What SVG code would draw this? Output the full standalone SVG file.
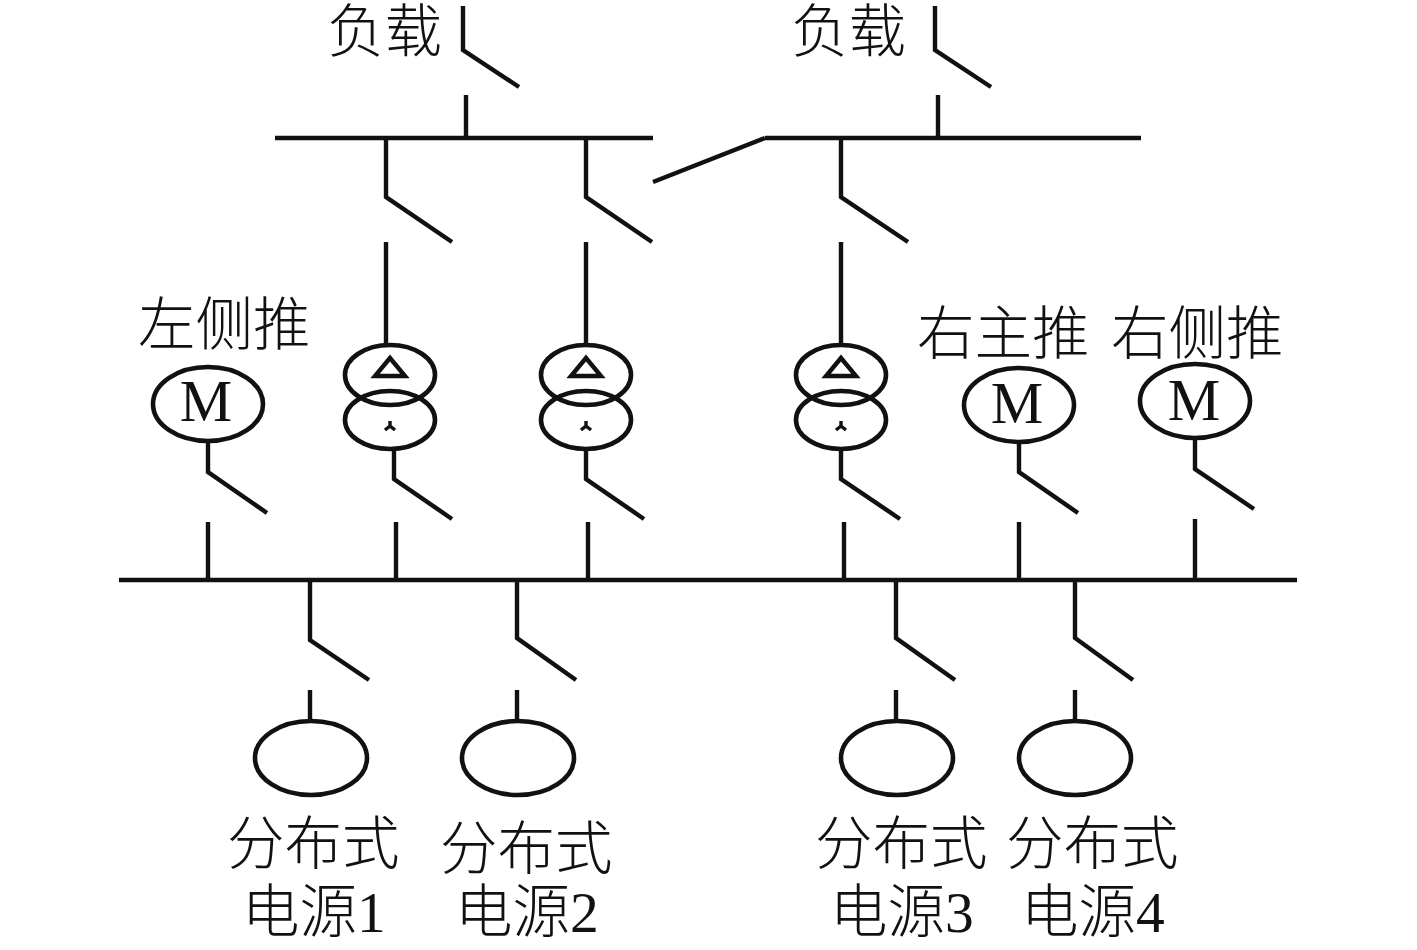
<svg xmlns="http://www.w3.org/2000/svg" width="1417" height="950" viewBox="0 0 1417 950">
<style>
.l{fill:none;stroke:#111;stroke-width:4.4}
.e{fill:none;stroke:#111;stroke-width:4.6}
.t{font-family:"Liberation Serif","Noto Sans CJK SC",serif;font-size:57.5px;fill:#111;font-weight:300}
.m{font-family:"Liberation Serif",serif;font-size:59px;fill:#111;text-anchor:middle}
</style>
<defs>
<g id="tf">
<ellipse class="e" cx="0" cy="1" rx="45" ry="30"/>
<ellipse class="e" cx="0" cy="46" rx="45" ry="29"/>
<path class="l" d="M0-16 L-15 2 H15 Z"/>
<path d="M0 47V52M0 52L-5 56M0 52L5 56" fill="none" stroke="#111" stroke-width="3.4"/>
</g>
</defs>
<rect width="1417" height="950" fill="#fff"/>
<g id="connectors" class="l">
<path d="M275 138H653M765 138H1141M119 580H1297"/>
<path d="M653 182L765 138"/>
<path d="M463 6V50L519 87M466 95V138"/>
<path d="M935 6V50L991 87M938 95V138"/>
<path d="M386 138V197L452 242M386 242V345"/>
<path d="M586 138V197L652 242M586 242V345"/>
<path d="M841 138V197L908 242M841 242V345"/>
<path d="M208 441V472L267 513M208 522V580"/>
<path d="M394 449V479L452 519M396 522V580"/>
<path d="M586 449V479L644 519M588 522V580"/>
<path d="M841 449V479L900 519M844 522V580"/>
<path d="M1019 441V472L1078 513M1019 522V580"/>
<path d="M1195 438V469L1254 509M1195 519V580"/>
<path d="M310 580V640L369 680M310 690V721"/>
<path d="M517 580V638L576 680M517 690V721"/>
<path d="M896 580V638L955 680M896 690V721"/>
<path d="M1075 580V638L1133 680M1075 690V721"/>
</g>
<g id="tf1"><use href="#tf" x="390" y="374"/></g>
<g id="tf2"><use href="#tf" x="586" y="374"/></g>
<g id="tf3"><use href="#tf" x="841" y="374"/></g>
<g id="m1"><ellipse class="e" cx="208" cy="404" rx="55" ry="37"/><text class="m" x="206" y="421">M</text></g>
<g id="m2"><ellipse class="e" cx="1019" cy="405" rx="55" ry="37"/><text class="m" x="1017" y="423">M</text></g>
<g id="m3"><ellipse class="e" cx="1195" cy="401" rx="55" ry="37"/><text class="m" x="1194" y="420">M</text></g>
<g id="g1"><ellipse class="e" cx="311" cy="758" rx="56" ry="37"/></g>
<g id="g2"><ellipse class="e" cx="518" cy="758" rx="56" ry="37"/></g>
<g id="g3"><ellipse class="e" cx="897" cy="758" rx="56" ry="37"/></g>
<g id="g4"><ellipse class="e" cx="1075" cy="758" rx="56" ry="37"/></g>
<g id="labels">
<text class="t" x="327" y="52">负载</text>
<text class="t" x="791" y="52">负载</text>
<text class="t" x="138" y="345">左侧推</text>
<text class="t" x="917" y="354">右主推</text>
<text class="t" x="1111" y="354">右侧推</text>
<text class="t" x="227" y="864">分布式</text>
<text class="t" x="242" y="932">电源1</text>
<text class="t" x="440" y="869">分布式</text>
<text class="t" x="455" y="932">电源2</text>
<text class="t" x="815" y="864">分布式</text>
<text class="t" x="830" y="932">电源3</text>
<text class="t" x="1006" y="864">分布式</text>
<text class="t" x="1021" y="932">电源4</text>
</g>
</svg>
